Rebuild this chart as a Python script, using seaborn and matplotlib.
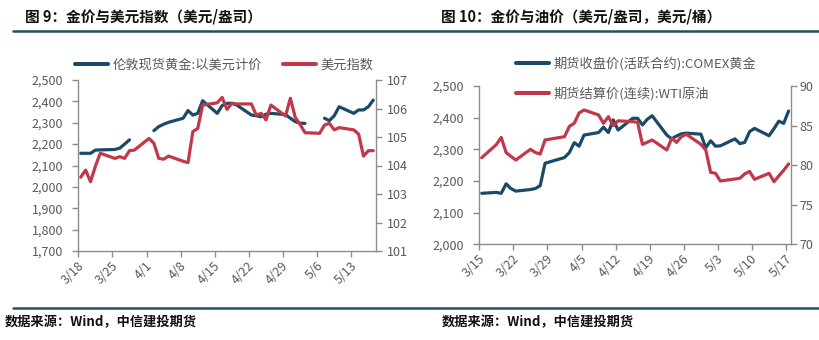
import numpy as np
import pandas as pd
import matplotlib
matplotlib.use("Agg")
import matplotlib.pyplot as plt
import matplotlib.dates as mdates
from matplotlib.lines import Line2D
from matplotlib.ticker import FixedLocator, FuncFormatter
import seaborn as sns

# ---------------- data ----------------
# Fig. 9: London spot gold (USD) and the US dollar index, trading days 3/18 - 5/17
left_dates = pd.bdate_range("2024-03-18", "2024-05-17")
london_gold = [
    2157, 2157, 2157, 2172, 2173,
    2175, 2181, 2200, 2220, np.nan,
    np.nan, 2263, 2282, 2293, 2302,
    2321, 2357, 2336, 2344, 2403,
    2344, 2380, 2391, 2391, 2383,
    2336, 2333, 2328, 2340, 2344,
    2338, 2321, 2305, 2298, 2297,
    np.nan, 2321, 2310, 2333, 2375,
    2344, 2360, 2360, 2375, 2406,
]
usd_index = [
    103.59, 103.84, 103.43, 103.97, 104.43,
    104.25, 104.31, 104.25, 104.52, 104.54,
    104.95, 104.78, 104.25, 104.22, 104.33,
    104.15, 104.10, 105.19, 105.30, 106.12,
    106.20, 106.39, 105.97, 106.18, 106.16,
    106.16, 105.77, 105.83, 105.60, 106.12,
    105.74, 106.36, 105.69, 105.44, 105.15,
    105.13, 105.42, 105.48, 105.25, 105.33,
    105.25, 105.10, 104.33, 104.52, 104.52,
]
left_ticks = ["3/18", "3/25", "4/1", "4/8", "4/15", "4/22", "4/29", "5/6", "5/13"]

# Fig. 10: COMEX gold (active contract) and WTI crude (continuous), 3/15 - 5/17
right_dates = pd.bdate_range("2024-03-15", "2024-05-17").drop(pd.Timestamp("2024-03-29"))
comex_gold = [
    2161,
    2164, 2161, 2191, 2176, 2168,
    2173, 2176, 2185, 2256,
    2274, 2290, 2321, 2310, 2345,
    2353, 2370, 2353, 2393, 2361,
    2398, 2398, 2377, 2395, 2406,
    2345, 2333, 2342, 2349, 2351,
    2348, 2305, 2327, 2310, 2311,
    2333, 2318, 2322, 2356, 2366,
    2343, 2365, 2389, 2382, 2421,
]
wti_oil = [
    80.94,
    82.60, 83.50, 81.60, 81.10, 80.65,
    82.00, 81.60, 81.40, 83.18,
    83.60, 84.90, 85.30, 86.60, 86.97,
    86.34, 85.28, 86.12, 85.00, 85.60,
    85.50, 85.41, 82.63, 82.90, 83.18,
    81.91, 83.39, 82.88, 83.60, 83.90,
    82.63, 81.91, 79.09, 78.97, 78.00,
    78.25, 78.34, 78.90, 79.20, 78.21,
    78.97, 77.91, 78.65, 79.35, 80.15,
]
right_ticks = ["3/15", "3/22", "3/29", "4/5", "4/12", "4/19", "4/26", "5/3", "5/10", "5/17"]

# ---------------- style ----------------
sns.set_theme(style="white")
plt.rcParams["font.family"] = ["Noto Sans CJK SC", "DejaVu Sans"]
plt.rcParams["axes.unicode_minus"] = False

BLUE = "#1B4A68"
RED = "#C1384A"
SPINE = "#8C8C8C"
TICK = "#595959"
RULE = "#244F5E"
LW = 2.3

W, H = 820, 340
fig = plt.figure(figsize=(W / 100, H / 100), dpi=100)


def frac_box(x0, y0, x1, y1):
    return [x0 / W, 1 - y1 / H, (x1 - x0) / W, (y1 - y0) / H]


def style_axes(ax, ax2):
    for a in (ax, ax2):
        a.set_facecolor("none")
        a.spines["top"].set_visible(False)
        a.set_xlabel("")
        a.set_ylabel("")
    ax.spines["right"].set_visible(False)
    ax2.spines["left"].set_visible(False)
    ax2.spines["bottom"].set_visible(False)
    for s in ("left", "bottom"):
        ax.spines[s].set_color(SPINE)
        ax.spines[s].set_linewidth(1.0)
    ax2.spines["right"].set_color(SPINE)
    ax2.spines["right"].set_linewidth(1.0)
    ax.tick_params(axis="y", left=True, direction="out", length=4, width=1.0,
                   color=SPINE, labelcolor=TICK, labelsize=9, pad=7)
    ax.tick_params(axis="x", bottom=True, direction="out", length=4, width=1.0,
                   color=SPINE, labelcolor=TICK, labelsize=9, pad=2)
    ax2.tick_params(axis="y", right=True, direction="out", length=4, width=1.0,
                    color=SPINE, labelcolor=TICK, labelsize=9, pad=4)


def date_ticks(ax, labels, year=2024):
    pos = [mdates.date2num(pd.Timestamp(f"{year}-{lab.replace('/', '-')}")) - 0.5 for lab in labels]
    ax.xaxis.set_major_locator(FixedLocator(pos))
    ax.set_xticklabels(labels, rotation=45, ha="right", va="top")
    offset = matplotlib.transforms.ScaledTranslation(8 / 100, 0, fig.dpi_scale_trans)
    for t in ax.get_xticklabels():
        t.set_transform(t.get_transform() + offset)


thousands = FuncFormatter(lambda v, _: f"{v:,.0f}")

# ---------------- left chart ----------------
dfl = pd.DataFrame({"date": left_dates, "gold": london_gold, "usd": usd_index})
dfl["seg"] = dfl["gold"].isna().cumsum()

axL = fig.add_axes(frac_box(78.3, 80, 375.7, 251))
axL2 = axL.twinx()
sns.lineplot(data=dfl.dropna(subset=["gold"]), x="date", y="gold", units="seg",
             estimator=None, color=BLUE, lw=LW, ax=axL, legend=False)
sns.lineplot(data=dfl, x="date", y="usd", color=RED, lw=LW, ax=axL2, legend=False)

x0 = mdates.date2num(left_dates[0]) - 0.5
x1 = mdates.date2num(left_dates[-1]) + 0.5
axL.set_xlim(x0, x1)
axL.set_ylim(1700, 2500)
axL.set_yticks(np.arange(1700, 2501, 100))
axL.yaxis.set_major_formatter(thousands)
axL2.set_ylim(101, 107)
axL2.set_yticks(np.arange(101, 108, 1))
style_axes(axL, axL2)
date_ticks(axL, left_ticks)

fig.legend(
    [Line2D([], [], color=BLUE, lw=LW + 0.6), Line2D([], [], color=RED, lw=LW + 0.6)],
    ["伦敦现货黄金:以美元计价", "美元指数"],
    loc="center left", bbox_to_anchor=(75 / W, 1 - 65 / H), ncol=2, frameon=False,
    fontsize=9.5, labelcolor=TICK, handlelength=2.5, handletextpad=0.35,
    columnspacing=1.6, borderpad=0, borderaxespad=0,
)

# ---------------- right chart ----------------
dfr = pd.DataFrame({"date": right_dates, "gold": comex_gold, "wti": wti_oil})

axR = fig.add_axes(frac_box(479.3, 86, 791, 244.3))
axR2 = axR.twinx()
sns.lineplot(data=dfr, x="date", y="gold", color=BLUE, lw=LW, ax=axR, legend=False)
sns.lineplot(data=dfr, x="date", y="wti", color=RED, lw=LW, ax=axR2, legend=False)

x0 = mdates.date2num(right_dates[0]) - 0.5
x1 = mdates.date2num(right_dates[-1]) + 0.5
axR.set_xlim(x0, x1)
axR.set_ylim(2000, 2500)
axR.set_yticks(np.arange(2000, 2501, 100))
axR.yaxis.set_major_formatter(thousands)
axR2.set_ylim(70, 90)
axR2.set_yticks(np.arange(70, 91, 5))
style_axes(axR, axR2)
axR2.tick_params(axis="y", pad=2)
date_ticks(axR, right_ticks)

fig.legend(
    [Line2D([], [], color=BLUE, lw=LW + 0.6), Line2D([], [], color=RED, lw=LW + 0.6)],
    ["期货收盘价(活跃合约):COMEX黄金", "期货结算价(连续):WTI原油"],
    loc="center left", bbox_to_anchor=(516 / W, 1 - 79 / H), ncol=1, frameon=False,
    fontsize=9.5, labelcolor=TICK, handlelength=2.5, handletextpad=0.35,
    labelspacing=1.25, borderpad=0, borderaxespad=0,
)

# ---------------- titles, rules, sources ----------------
fig.text(25 / W, 1 - 16 / H, "图 9：金价与美元指数（美元/盎司）", fontsize=10.5,
         fontweight="bold", color="#111111", ha="left", va="center")
fig.text(441 / W, 1 - 16 / H, "图 10：金价与油价（美元/盎司，美元/桶）", fontsize=10.5,
         fontweight="bold", color="#111111", ha="left", va="center")

for y in (30.7, 307.5):
    fig.add_artist(Line2D([13 / W, 1.0], [1 - y / H, 1 - y / H], transform=fig.transFigure,
                          color=RULE, lw=1.8))

for x in (5, 442):
    fig.text(x / W, 1 - 322 / H, "数据来源：Wind，中信建投期货", fontsize=9.5,
             fontweight="bold", fontstyle="italic", color="#111111", ha="left", va="center")

fig.savefig("out.png", dpi=100)
